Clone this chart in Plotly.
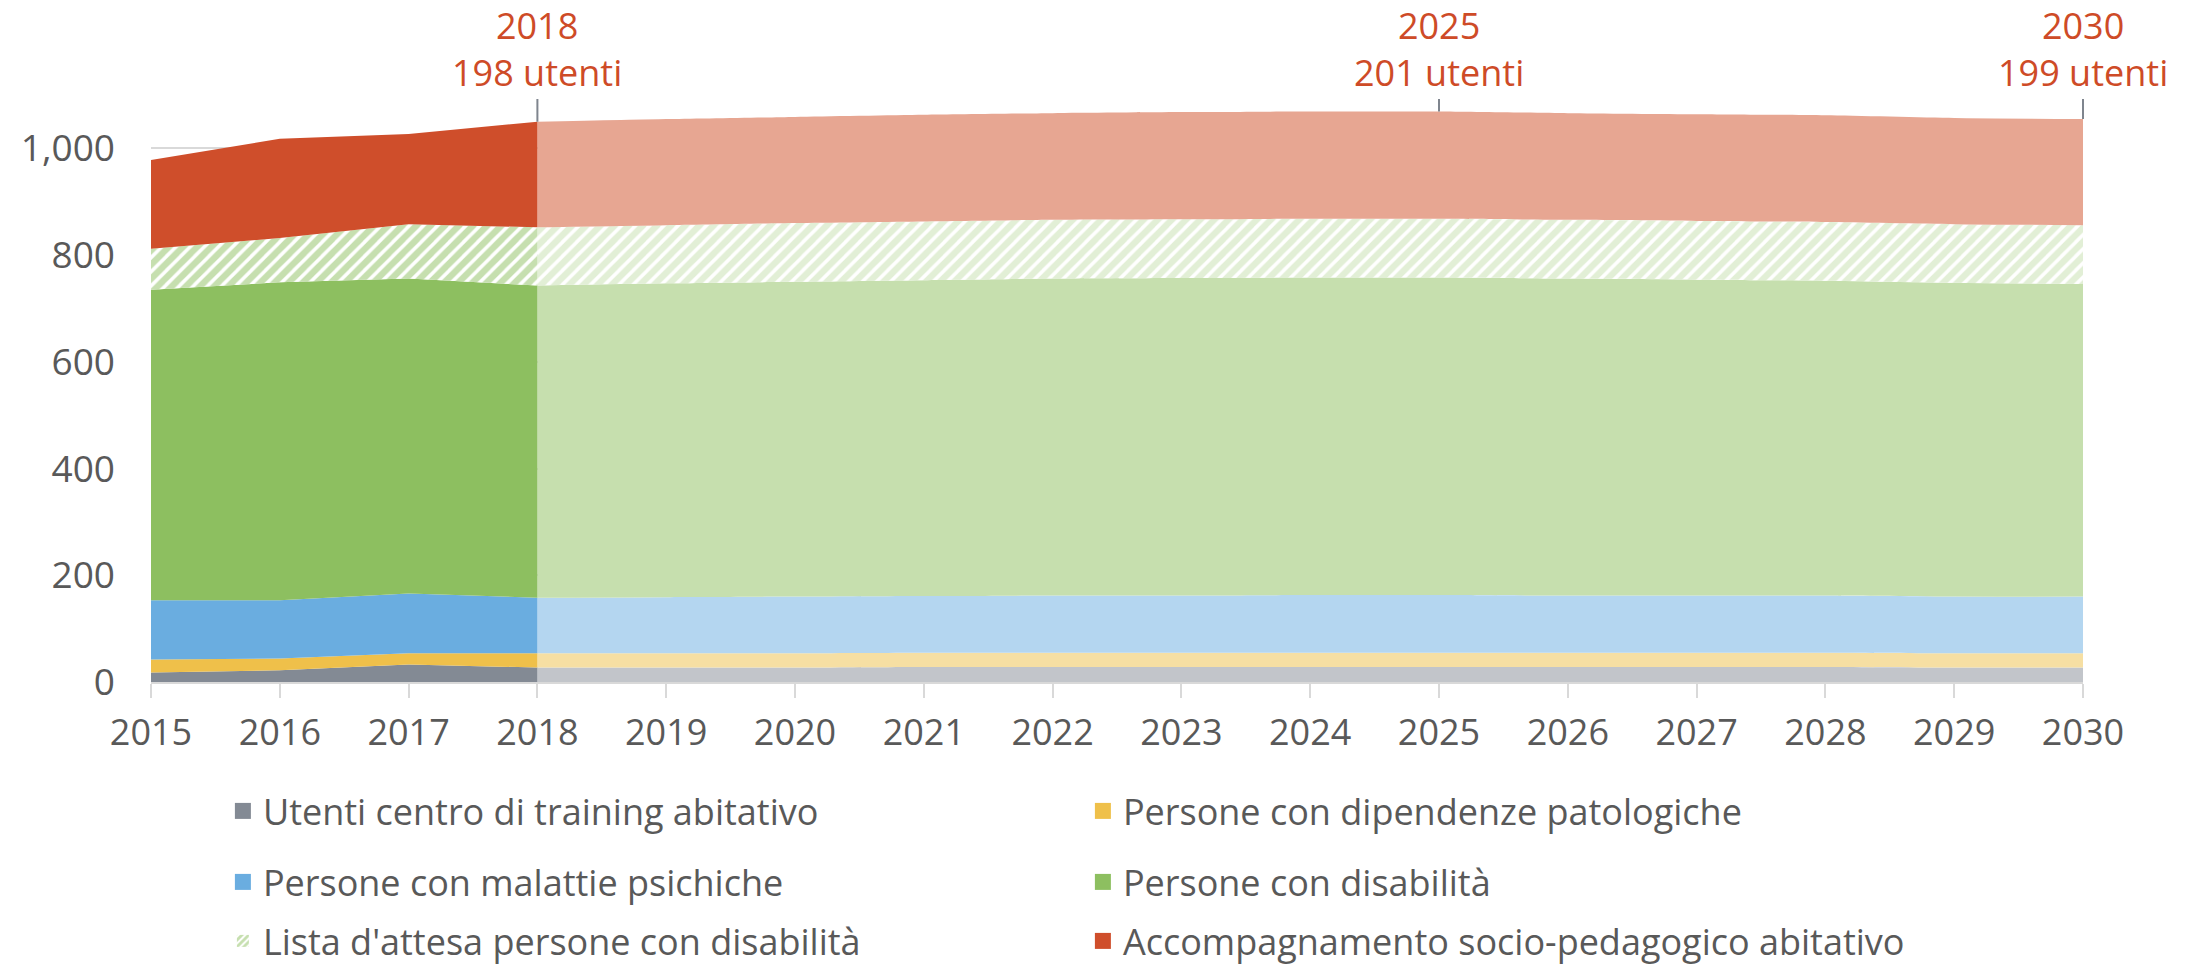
import plotly.graph_objects as go

# ---------------- data ----------------
years_hist = [2015, 2016, 2017, 2018]
years_proj = [2018, 2019, 2020, 2021, 2022, 2023, 2024, 2025, 2026, 2027, 2028, 2029, 2030]

names = [
    "Utenti centro di training abitativo",
    "Persone con dipendenze patologiche",
    "Persone con malattie psichiche",
    "Persone con disabilità",
    "Lista d'attesa persone con disabilità",
    "Accompagnamento socio-pedagogico abitativo",
]

gray_hist = [18, 22, 33, 27]
yellow_hist = [24, 22, 21, 27]
blue_hist = [111, 109, 112, 104]
green_hist = [582, 596, 590, 585]
wait_hist = [77, 83, 102, 109]
red_hist = [166, 186, 169, 198]

gray_proj = [27, 27, 27, 28, 28, 28, 28, 28, 28, 28, 28, 27, 27]
yellow_proj = [27, 27, 27, 27, 27, 27, 27, 27, 27, 27, 27, 27, 27]
blue_proj = [104, 105, 106, 106, 107, 107, 108, 108, 107, 107, 107, 106, 106]
green_proj = [585, 588, 590, 592, 594, 595, 595, 595, 594, 592, 590, 588, 586]
wait_proj = [109, 109, 110, 110, 110, 110, 110, 110, 110, 110, 110, 110, 110]
red_proj = [198, 199, 199, 200, 200, 201, 201, 201, 200, 200, 200, 199, 199]

callout_years = [2018, 2025, 2030]
callout_users = [198, 201, 199]

x_ticks = [2015, 2016, 2017, 2018, 2019, 2020, 2021, 2022, 2023, 2024, 2025, 2026, 2027, 2028, 2029, 2030]
y_ticks = [0, 200, 400, 600, 800, 1000]

# ---------------- styles / layout ----------------
W, H = 2196, 968
M_L, M_R, M_T, M_B = 151, 113, 95, 286
Y_MAX = 1100
PLOT_H = H - M_T - M_B
FONT = "Open Sans"
TXT = "#595959"
RED_TXT = "#CE4B27"
dark_cols = ["#838A94", "#EFC04A", "#6AADE0", "#8DBF60", "#8DBF60", "#CF4E2B"]
light_cols = ["#C2C5CA", "#F6DFA3", "#B4D6F0", "#C6DFAE", "#C6DFAE", "#E7A692"]
legend_ids = ["legend", "legend", "legend2", "legend2", "legend3", "legend3"]


def px_to_val(py):
    """pixel row (from top of figure) -> y-axis value"""
    return (H - M_B - py) * Y_MAX / PLOT_H


hist_series = [gray_hist, yellow_hist, blue_hist, green_hist, wait_hist, red_hist]
proj_series = [gray_proj, yellow_proj, blue_proj, green_proj, wait_proj, red_proj]

fig = go.Figure()

# projected (light) areas
for i, (vals, name) in enumerate(zip(proj_series, names)):
    kw = dict(fillcolor=light_cols[i])
    if i == 4:
        kw = dict(fillcolor="white",
                  fillpattern=dict(shape="/", fgcolor=light_cols[i], bgcolor="white",
                                   size=10, solidity=0.65))
    fig.add_trace(go.Scatter(
        x=years_proj, y=vals, name=name, stackgroup="proj", mode="lines",
        line=dict(width=0, shape="spline", smoothing=0.6), showlegend=False,
        hoverinfo="skip", **kw))

# historical (saturated) areas
for i, (vals, name) in enumerate(zip(hist_series, names)):
    kw = dict(fillcolor=dark_cols[i])
    if i == 4:
        kw = dict(fillcolor="white",
                  fillpattern=dict(shape="/", fgcolor=dark_cols[i], bgcolor="white",
                                   size=10, solidity=0.65))
    fig.add_trace(go.Scatter(
        x=years_hist, y=vals, name=name, stackgroup="hist", mode="lines",
        line=dict(width=0), showlegend=False, **kw))

# legend entries (square swatches)
for i, name in enumerate(names):
    if i == 4:
        fig.add_trace(go.Bar(
            x=[None], y=[None], name=name, legend=legend_ids[i],
            marker=dict(color="white", line=dict(width=0),
                        pattern=dict(shape="/", fgcolor=dark_cols[i], bgcolor="white",
                                     size=6, solidity=0.6))))
    else:
        fig.add_trace(go.Scatter(
            x=[None], y=[None], name=name, legend=legend_ids[i], mode="markers",
            marker=dict(symbol="square", size=16, color=dark_cols[i], line=dict(width=0))))

# callouts: two-line label with a gray leader line down to the area top
proj_totals = [sum(s[years_proj.index(y)] for s in proj_series) for y in callout_years]
for yr, users, tot in zip(callout_years, callout_users, proj_totals):
    fig.add_annotation(
        x=yr, y=tot, xref="x", yref="y",
        text=f"{yr}<br>{users} utenti",
        showarrow=True, arrowhead=0, arrowwidth=2, arrowcolor="#7F858E",
        axref="pixel", ax=0, ayref="y", ay=px_to_val(99), yanchor="bottom",
        font=dict(family=FONT, size=36, color=RED_TXT),
    )

legend_common = dict(
    orientation="h", xref="container", yref="container",
    x=0.1015, xanchor="left", yanchor="middle",
    entrywidth=815, entrywidthmode="pixels", traceorder="normal",
    font=dict(family=FONT, size=36, color=TXT),
    bgcolor="rgba(0,0,0,0)", itemclick=False, itemdoubleclick=False,
)

fig.update_layout(
    width=W, height=H,
    margin=dict(l=M_L, r=M_R, t=M_T, b=M_B),
    paper_bgcolor="white", plot_bgcolor="white",
    font=dict(family=FONT, color=TXT),
    legend=dict(y=1 - 811 / H, **legend_common),
    legend2=dict(y=1 - 882 / H, **legend_common),
    legend3=dict(y=1 - 941 / H, **legend_common),
    xaxis=dict(
        range=[2015, 2030], tickvals=x_ticks, ticktext=[str(v) for v in x_ticks],
        showgrid=False, zeroline=False, showline=True, linecolor="#D9D9D9", linewidth=2,
        ticks="outside", ticklen=14, tickwidth=2, tickcolor="#D9D9D9",
        ticklabelstandoff=4,
        tickfont=dict(family=FONT, size=36, color=TXT),
    ),
    yaxis=dict(
        range=[0, Y_MAX], tickvals=y_ticks, tickformat=",",
        showgrid=True, gridcolor="#D9D9D9", gridwidth=2, zeroline=False, showline=False,
        ticks="", ticklabelstandoff=35,
        tickfont=dict(family=FONT, size=37, color=TXT),
    ),
)

fig.write_html(
    "out.html",
    config={"displayModeBar": False},
    post_script="document.body.style.margin='0';document.body.style.overflow='hidden';",
)
